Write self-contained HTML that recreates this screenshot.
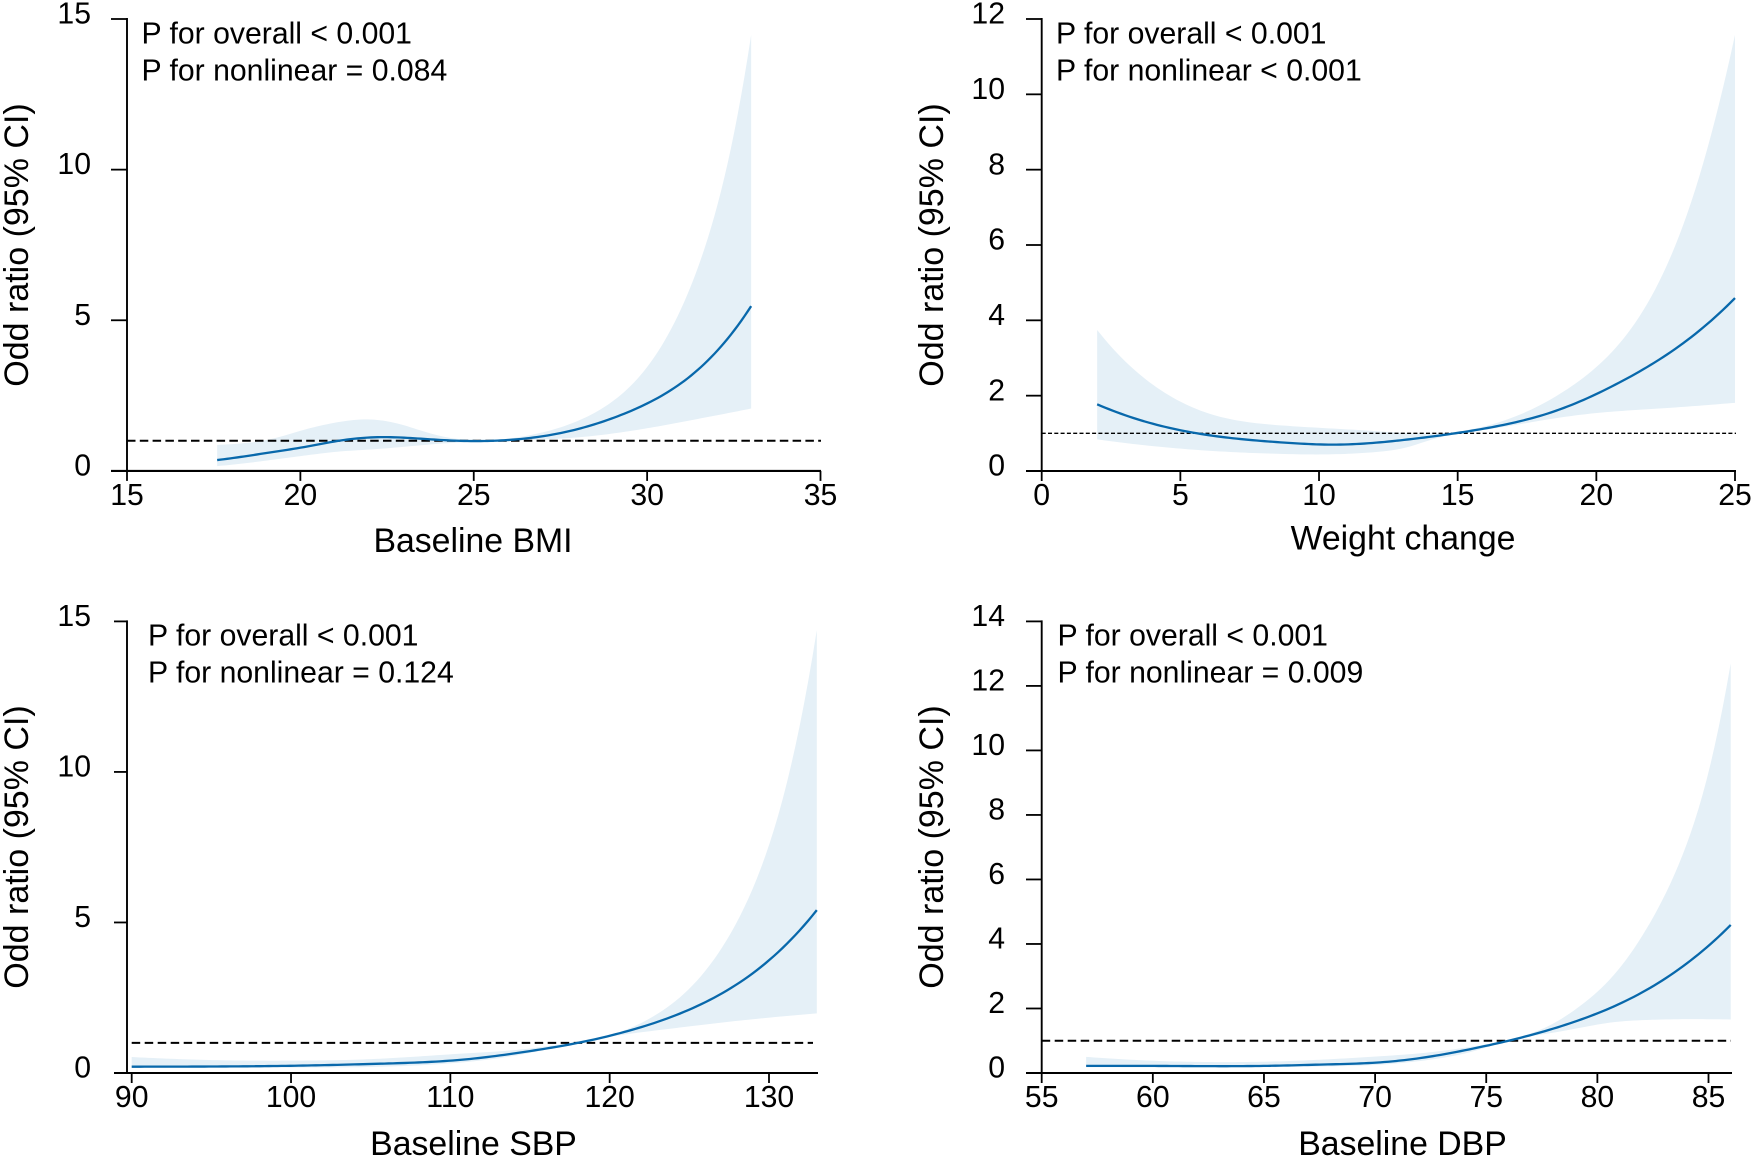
<!DOCTYPE html>
<html lang="en">
<head>
<meta charset="utf-8">
<title>Odd ratio restricted cubic spline panels</title>
<style>
  html, body { margin: 0; padding: 0; background: #fff; }
  svg { display: block; font-family: "Liberation Sans", Arial, sans-serif; fill: #000; }
</style>
</head>
<body>
<svg id="chart" xmlns="http://www.w3.org/2000/svg" width="1755" height="1159" viewBox="0 0 1755 1159"></svg>
<script>
// Baseline BMI
const bmiXTicks = [15, 20, 25, 30, 35];
const bmiYTicks = [0, 5, 10, 15];
const bmiLineX = [17.6, 19, 20, 21, 22.3, 24, 25.2, 27.2, 29.12, 31.05, 33];
const bmiLineOR = [0.36, 0.59, 0.77, 0.98, 1.12, 1.03, 0.99, 1.19, 1.80, 2.97, 5.47];
const bmiUpperX = [17.6, 19, 20, 21, 21.9, 23, 24, 25, 26.72, 28.16, 29.6, 31.05, 32.3, 33];
const bmiUpperOR = [0.86, 1.02, 1.33, 1.60, 1.71, 1.51, 1.17, 1.02, 1.21, 1.74, 2.91, 5.56, 10.1, 14.47];
const bmiLowerX = [17.6, 19, 20, 21, 22, 24, 26, 28.16, 29.6, 31.53, 33];
const bmiLowerOR = [0.16, 0.34, 0.49, 0.63, 0.71, 0.90, 1.00, 1.13, 1.34, 1.74, 2.07];

// Weight change
const weightXTicks = [0, 5, 10, 15, 20, 25];
const weightYTicks = [0, 2, 4, 6, 8, 10, 12];
const weightLineX = [2, 4.03, 6.43, 8.83, 10.5, 13, 15.08, 18.09, 20.49, 22.9, 25];
const weightLineOR = [1.77, 1.25, 0.91, 0.75, 0.70, 0.82, 1.02, 1.49, 2.22, 3.27, 4.59];
const weightUpperX = [2, 4.03, 6.43, 8.83, 12, 14.5, 16.29, 18.69, 20.85, 23.02, 24.46, 25];
const weightUpperOR = [3.745, 2.28, 1.44, 1.20, 1.06, 1.01, 1.25, 2.05, 3.40, 6.31, 9.85, 11.58];
const weightLowerX = [2, 5.23, 8.83, 10.04, 12, 13, 14, 15.08, 16.29, 18.09, 19.89, 22.3, 25];
const weightLowerOR = [0.84, 0.58, 0.45, 0.44, 0.50, 0.60, 0.82, 1.00, 1.13, 1.35, 1.53, 1.66, 1.81];

// Baseline SBP
const sbpXTicks = [90, 100, 110, 120, 130];
const sbpYTicks = [0, 5, 10, 15];
const sbpLineX = [90, 100, 105, 110, 114, 118, 120.03, 124.2, 128.39, 133];
const sbpLineOR = [0.21, 0.24, 0.30, 0.41, 0.65, 1.00, 1.24, 1.93, 3.09, 5.41];
const sbpUpperX = [90, 95, 100, 105, 110, 114, 117.5, 120.03, 122.12, 124.2, 127.35, 130.49, 133];
const sbpUpperOR = [0.53, 0.43, 0.41, 0.46, 0.62, 0.76, 1.00, 1.26, 1.70, 2.42, 4.42, 8.4, 14.71];
const sbpLowerX = [90, 100, 105, 110, 114, 116, 118, 120, 123.16, 126.3, 129.44, 133];
const sbpLowerOR = [0.17, 0.18, 0.20, 0.32, 0.57, 0.78, 1.00, 1.20, 1.43, 1.63, 1.81, 1.98];

// Baseline DBP
const dbpXTicks = [55, 60, 65, 70, 75, 80, 85];
const dbpYTicks = [0, 2, 4, 6, 8, 10, 12, 14];
const dbpLineX = [57, 60, 65, 67.5, 70, 72, 74, 76, 78.32, 81.32, 84.31, 86];
const dbpLineOR = [0.22, 0.22, 0.22, 0.26, 0.32, 0.46, 0.70, 1.00, 1.44, 2.25, 3.55, 4.59];
const dbpUpperX = [57, 60, 65, 70, 72, 74, 76, 77.56, 79.07, 80.56, 82.06, 83.56, 84.91, 86];
const dbpUpperOR = [0.50, 0.38, 0.35, 0.51, 0.61, 0.78, 1.03, 1.38, 2.00, 2.90, 4.30, 6.30, 9.08, 12.7];
const dbpLowerX = [57, 65, 67.5, 70, 72, 74, 76, 77.56, 79.07, 80.56, 82.06, 84.31, 86];
const dbpLowerOR = [0.18, 0.18, 0.20, 0.25, 0.37, 0.60, 1.00, 1.20, 1.38, 1.56, 1.64, 1.67, 1.66];

const referenceOR = 1;
const yAxisTitle = "Odd ratio (95% CI)";

const panels = [
  { key: "bmi", xTitle: "Baseline BMI", pOverall: "P for overall < 0.001", pNonlinear: "P for nonlinear = 0.084",
    xTicks: bmiXTicks, yTicks: bmiYTicks,
    lineX: bmiLineX, lineOR: bmiLineOR, upperX: bmiUpperX, upperOR: bmiUpperOR, lowerX: bmiLowerX, lowerOR: bmiLowerOR,
    xDomain: [15, 35], xRange: [127, 820.5], yDomain: [0, 15], yRange: [470.9, 19],
    spineX: 127, axisStart: 111, axisEnd: 821, refStart: 127, refEnd: 821, dash: "8.5 4.3", refWidth: 2,
    labelRight: 91, titleX: 28, titleY: 245, xTitleX: 473, xTitleY: 552, xTickY: 505, pX: 141.5, pY1: 43.7, pY2: 80.3 },
  { key: "weight", xTitle: "Weight change", pOverall: "P for overall < 0.001", pNonlinear: "P for nonlinear < 0.001",
    xTicks: weightXTicks, yTicks: weightYTicks,
    lineX: weightLineX, lineOR: weightLineOR, upperX: weightUpperX, upperOR: weightUpperOR, lowerX: weightLowerX, lowerOR: weightLowerOR,
    xDomain: [0, 25], xRange: [1041.7, 1735], yDomain: [0, 12], yRange: [471, 19],
    spineX: 1041.7, axisStart: 1026, axisEnd: 1736, refStart: 1041.7, refEnd: 1736, dash: "4 2.3", refWidth: 1.4,
    labelRight: 1005, titleX: 943, titleY: 245, xTitleX: 1403, xTitleY: 549.5, xTickY: 505, pX: 1056, pY1: 43.7, pY2: 80.3 },
  { key: "sbp", xTitle: "Baseline SBP", pOverall: "P for overall < 0.001", pNonlinear: "P for nonlinear = 0.124",
    xTicks: sbpXTicks, yTicks: sbpYTicks,
    lineX: sbpLineX, lineOR: sbpLineOR, upperX: sbpUpperX, upperOR: sbpUpperOR, lowerX: sbpLowerX, lowerOR: sbpLowerOR,
    xDomain: [90, 130], xRange: [131.7, 769], yDomain: [0, 15], yRange: [1073, 621.4],
    spineX: 127, axisStart: 114, axisEnd: 818, refStart: 131.7, refEnd: 813, dash: "8.5 4.5", refWidth: 2,
    labelRight: 91, titleX: 28, titleY: 847, xTitleX: 473.5, xTitleY: 1155, xTickY: 1107, pX: 148, pY1: 645.7, pY2: 682.7 },
  { key: "dbp", xTitle: "Baseline DBP", pOverall: "P for overall < 0.001", pNonlinear: "P for nonlinear = 0.009",
    xTicks: dbpXTicks, yTicks: dbpYTicks,
    lineX: dbpLineX, lineOR: dbpLineOR, upperX: dbpUpperX, upperOR: dbpUpperOR, lowerX: dbpLowerX, lowerOR: dbpLowerOR,
    xDomain: [55, 85], xRange: [1041.7, 1708.5], yDomain: [0, 14], yRange: [1073, 621.4],
    spineX: 1041.7, axisStart: 1026, axisEnd: 1732, refStart: 1041.7, refEnd: 1731, dash: "8.5 4.5", refWidth: 2,
    labelRight: 1005, titleX: 943, titleY: 847, xTitleX: 1402.5, xTitleY: 1155, xTickY: 1107, pX: 1057.5, pY1: 645.7, pY2: 682.7 }
];

const SVG_NS = "http://www.w3.org/2000/svg";
const root = document.getElementById("chart");
const SAMPLES = 160;

function make(parent, tag, attrs, text) {
  const node = document.createElementNS(SVG_NS, tag);
  for (const k in attrs) node.setAttribute(k, attrs[k]);
  if (text !== undefined) node.textContent = text;
  parent.appendChild(node);
  return node;
}

function linearScale(domain, range) {
  const k = (range[1] - range[0]) / (domain[1] - domain[0]);
  return function (v) { return range[0] + (v - domain[0]) * k; };
}

// Natural cubic spline through the knots.
function naturalSpline(xs, ys) {
  const n = xs.length;
  const a = new Array(n).fill(0), b = new Array(n).fill(1), c = new Array(n).fill(0), r = new Array(n).fill(0);
  for (let i = 1; i < n - 1; i++) {
    const h0 = xs[i] - xs[i - 1], h1 = xs[i + 1] - xs[i];
    a[i] = h0;
    b[i] = 2 * (h0 + h1);
    c[i] = h1;
    r[i] = 6 * ((ys[i + 1] - ys[i]) / h1 - (ys[i] - ys[i - 1]) / h0);
  }
  for (let i = 1; i < n; i++) {
    const w = a[i] / b[i - 1];
    b[i] -= w * c[i - 1];
    r[i] -= w * r[i - 1];
  }
  const m = new Array(n).fill(0);
  m[n - 1] = r[n - 1] / b[n - 1];
  for (let i = n - 2; i >= 0; i--) m[i] = (r[i] - c[i] * m[i + 1]) / b[i];
  return function (x) {
    let i = 0;
    while (i < n - 2 && x > xs[i + 1]) i++;
    const h = xs[i + 1] - xs[i], t1 = (xs[i + 1] - x) / h, t0 = (x - xs[i]) / h;
    return t1 * ys[i] + t0 * ys[i + 1] + ((t1 * t1 * t1 - t1) * m[i] + (t0 * t0 * t0 - t0) * m[i + 1]) * h * h / 6;
  };
}

// Pixel points of a curve: the odds ratios are smoothed on the log scale.
function curvePoints(xVals, orVals, sx, sy) {
  const logs = orVals.map(function (v) { return Math.log(Math.max(v, 0.01)); });
  const f = naturalSpline(xVals, logs);
  const pts = [];
  const x0 = xVals[0], x1 = xVals[xVals.length - 1];
  for (let i = 0; i <= SAMPLES; i++) {
    const x = x0 + (x1 - x0) * i / SAMPLES;
    pts.push(sx(x).toFixed(2) + " " + sy(Math.exp(f(x))).toFixed(2));
  }
  return pts;
}

function drawPanel(p) {
  const sx = linearScale(p.xDomain, p.xRange);
  const sy = linearScale(p.yDomain, p.yRange);
  const yTop = sy(p.yTicks[p.yTicks.length - 1]);
  const yZero = sy(0);

  const g = make(root, "g", {});
  
  

  // Confidence band
  const upperPts = curvePoints(p.upperX, p.upperOR, sx, sy);
  const lowerPts = curvePoints(p.lowerX, p.lowerOR, sx, sy).reverse();
  const band = make(g, "path", { d: "M" + upperPts.concat(lowerPts).join("L") + "Z", fill: "#e5f0f7", stroke: "none" });
  
  

  // Reference line at OR = 1
  const ref = make(g, "line", { x1: p.refStart, x2: p.refEnd, y1: sy(referenceOR), y2: sy(referenceOR),
    stroke: "#000", "stroke-width": p.refWidth, "stroke-dasharray": p.dash });
  
  

  // Axes
  const yAxis = make(g, "line", { x1: p.spineX, x2: p.spineX, y1: yTop - 1, y2: yZero + 1, stroke: "#000", "stroke-width": 1.9 });
  
  

  const xAxis = make(g, "line", { x1: p.axisStart, x2: p.axisEnd, y1: yZero, y2: yZero, stroke: "#000", "stroke-width": 2.1 });
  
  

  p.yTicks.forEach(function (t) {
    if (t !== 0) {
      const tick = make(g, "line", { x1: p.axisStart, x2: p.spineX, y1: sy(t), y2: sy(t), stroke: "#000", "stroke-width": 1.8 });
      
      
    }
    const label = make(g, "text", { x: p.labelRight, y: sy(t) + 4.6, "text-anchor": "end", "font-size": 30.2 }, String(t));
    
    
  });

  p.xTicks.forEach(function (t) {
    const tick = make(g, "line", { x1: sx(t), x2: sx(t), y1: yZero, y2: yZero + 10, stroke: "#000", "stroke-width": 1.8 });
    
    
    const label = make(g, "text", { x: sx(t), y: p.xTickY, "text-anchor": "middle", "font-size": 30.2 }, String(t));
    
    
  });

  // Fitted curve
  const curve = make(g, "path", { d: "M" + curvePoints(p.lineX, p.lineOR, sx, sy).join("L"),
    fill: "none", stroke: "#0868ab", "stroke-width": 2.3, "stroke-linejoin": "round" });
  
  

  // Titles and annotations
  const xt = make(g, "text", { x: p.xTitleX, y: p.xTitleY, "text-anchor": "middle", "font-size": 33.8 }, p.xTitle);
  
  

  const yt = make(g, "text", { x: 0, y: 0, "text-anchor": "middle", "font-size": 34,
    transform: "translate(" + p.titleX + " " + p.titleY + ") rotate(-90)" }, yAxisTitle);
  
  

  const p1 = make(g, "text", { x: p.pX, y: p.pY1, "font-size": 30.2 }, p.pOverall);
  
  

  const p2 = make(g, "text", { x: p.pX, y: p.pY2, "font-size": 30.2 }, p.pNonlinear);
  
  
}

panels.forEach(drawPanel);
</script>
</body>
</html>
